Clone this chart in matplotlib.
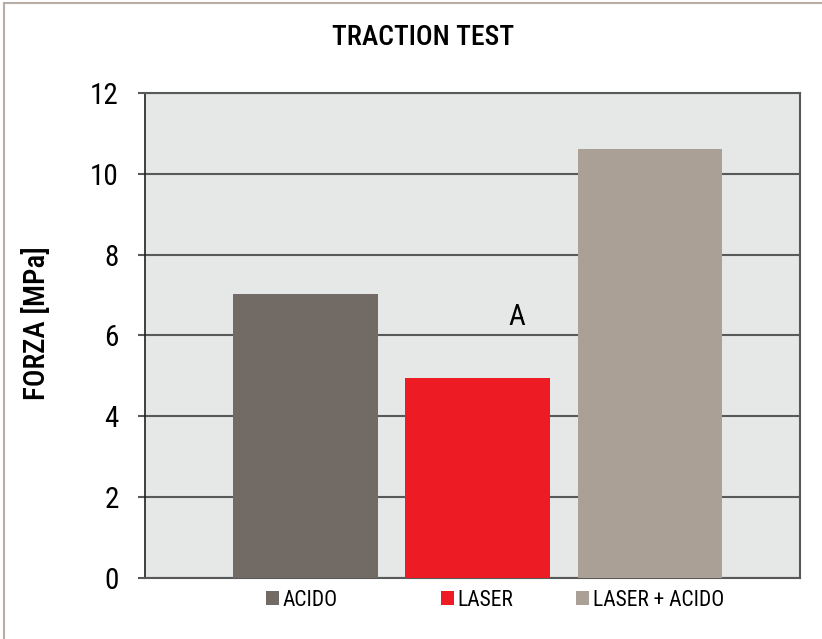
import matplotlib.pyplot as plt
from matplotlib.lines import Line2D
from matplotlib.patches import Patch
from matplotlib import font_manager

# data
categories = ['ACIDO', 'LASER', 'LASER + ACIDO']
values = [7.03, 4.96, 10.62]
colors = ['#726a64', '#ed1c24', '#aba095']
y_ticks = [0, 2, 4, 6, 8, 10, 12]

# pick a condensed sans if one is installed
names = {f.name for f in font_manager.fontManager.ttflist}
narrow = 'Liberation Sans'
for cand in ['Roboto Condensed', 'Archivo Narrow', 'Liberation Sans Narrow', 'PT Sans Narrow']:
    if cand in names:
        narrow = cand
        break
plt.rcParams['font.family'] = [narrow, 'DejaVu Sans']

fig = plt.figure(figsize=(8.22, 6.39), dpi=100)
ax = fig.add_axes([0.1764, 0.0955, 0.7968, 0.759])

x = list(range(len(categories)))
ax.bar(x, values, width=0.84, color=colors, zorder=3)

ax.set_facecolor('#e6e7e7')
ax.set_xlim(-0.932, 2.871)
ax.set_ylim(0, 12)
ax.set_yticks(y_ticks)
ax.yaxis.grid(True, color='#58595b', linewidth=1.5, zorder=1)
ax.set_axisbelow(True)
ax.set_xticks([])
ax.tick_params(axis='y', length=5, width=1.5, color='#58595b', labelsize=21, pad=14)

for side in ['top', 'right', 'bottom']:
    ax.spines[side].set_color('#58595b')
    ax.spines[side].set_linewidth(1.5)
ax.spines['left'].set_color('#231f20')
ax.spines['left'].set_linewidth(1.2)

ax.set_ylabel('FORZA [MPa]', fontsize=21, fontweight='medium')
ax.yaxis.set_label_coords(-0.143, 0.526)
fig.text(0.515, 0.942, 'TRACTION TEST', fontsize=20, fontweight='medium',
         ha='center', va='center')

ax.text(1.228, 6.46, 'A', fontsize=21, ha='center', va='center')

# one legend entry per category, placed where the reference has them
legend_x = [0.3236, 0.5365, 0.7007]
for lx, c, lab in zip(legend_x, colors, categories):
    fig.legend([Patch(facecolor=c, edgecolor='none')], [lab], loc='center left',
               bbox_to_anchor=(lx, 0.061), frameon=False, fontsize=15.5,
               handlelength=0.62, handleheight=0.62, handletextpad=0.15,
               borderpad=0, borderaxespad=0)

# outer frame (left and top only visible)
fig.add_artist(Line2D([0.005, 0.005], [0, 0.995], color='#b8aea6', linewidth=1.5))
fig.add_artist(Line2D([0.005, 1.0], [0.995, 0.995], color='#b8aea6', linewidth=1.5))

fig.savefig('out.png', dpi=100)
